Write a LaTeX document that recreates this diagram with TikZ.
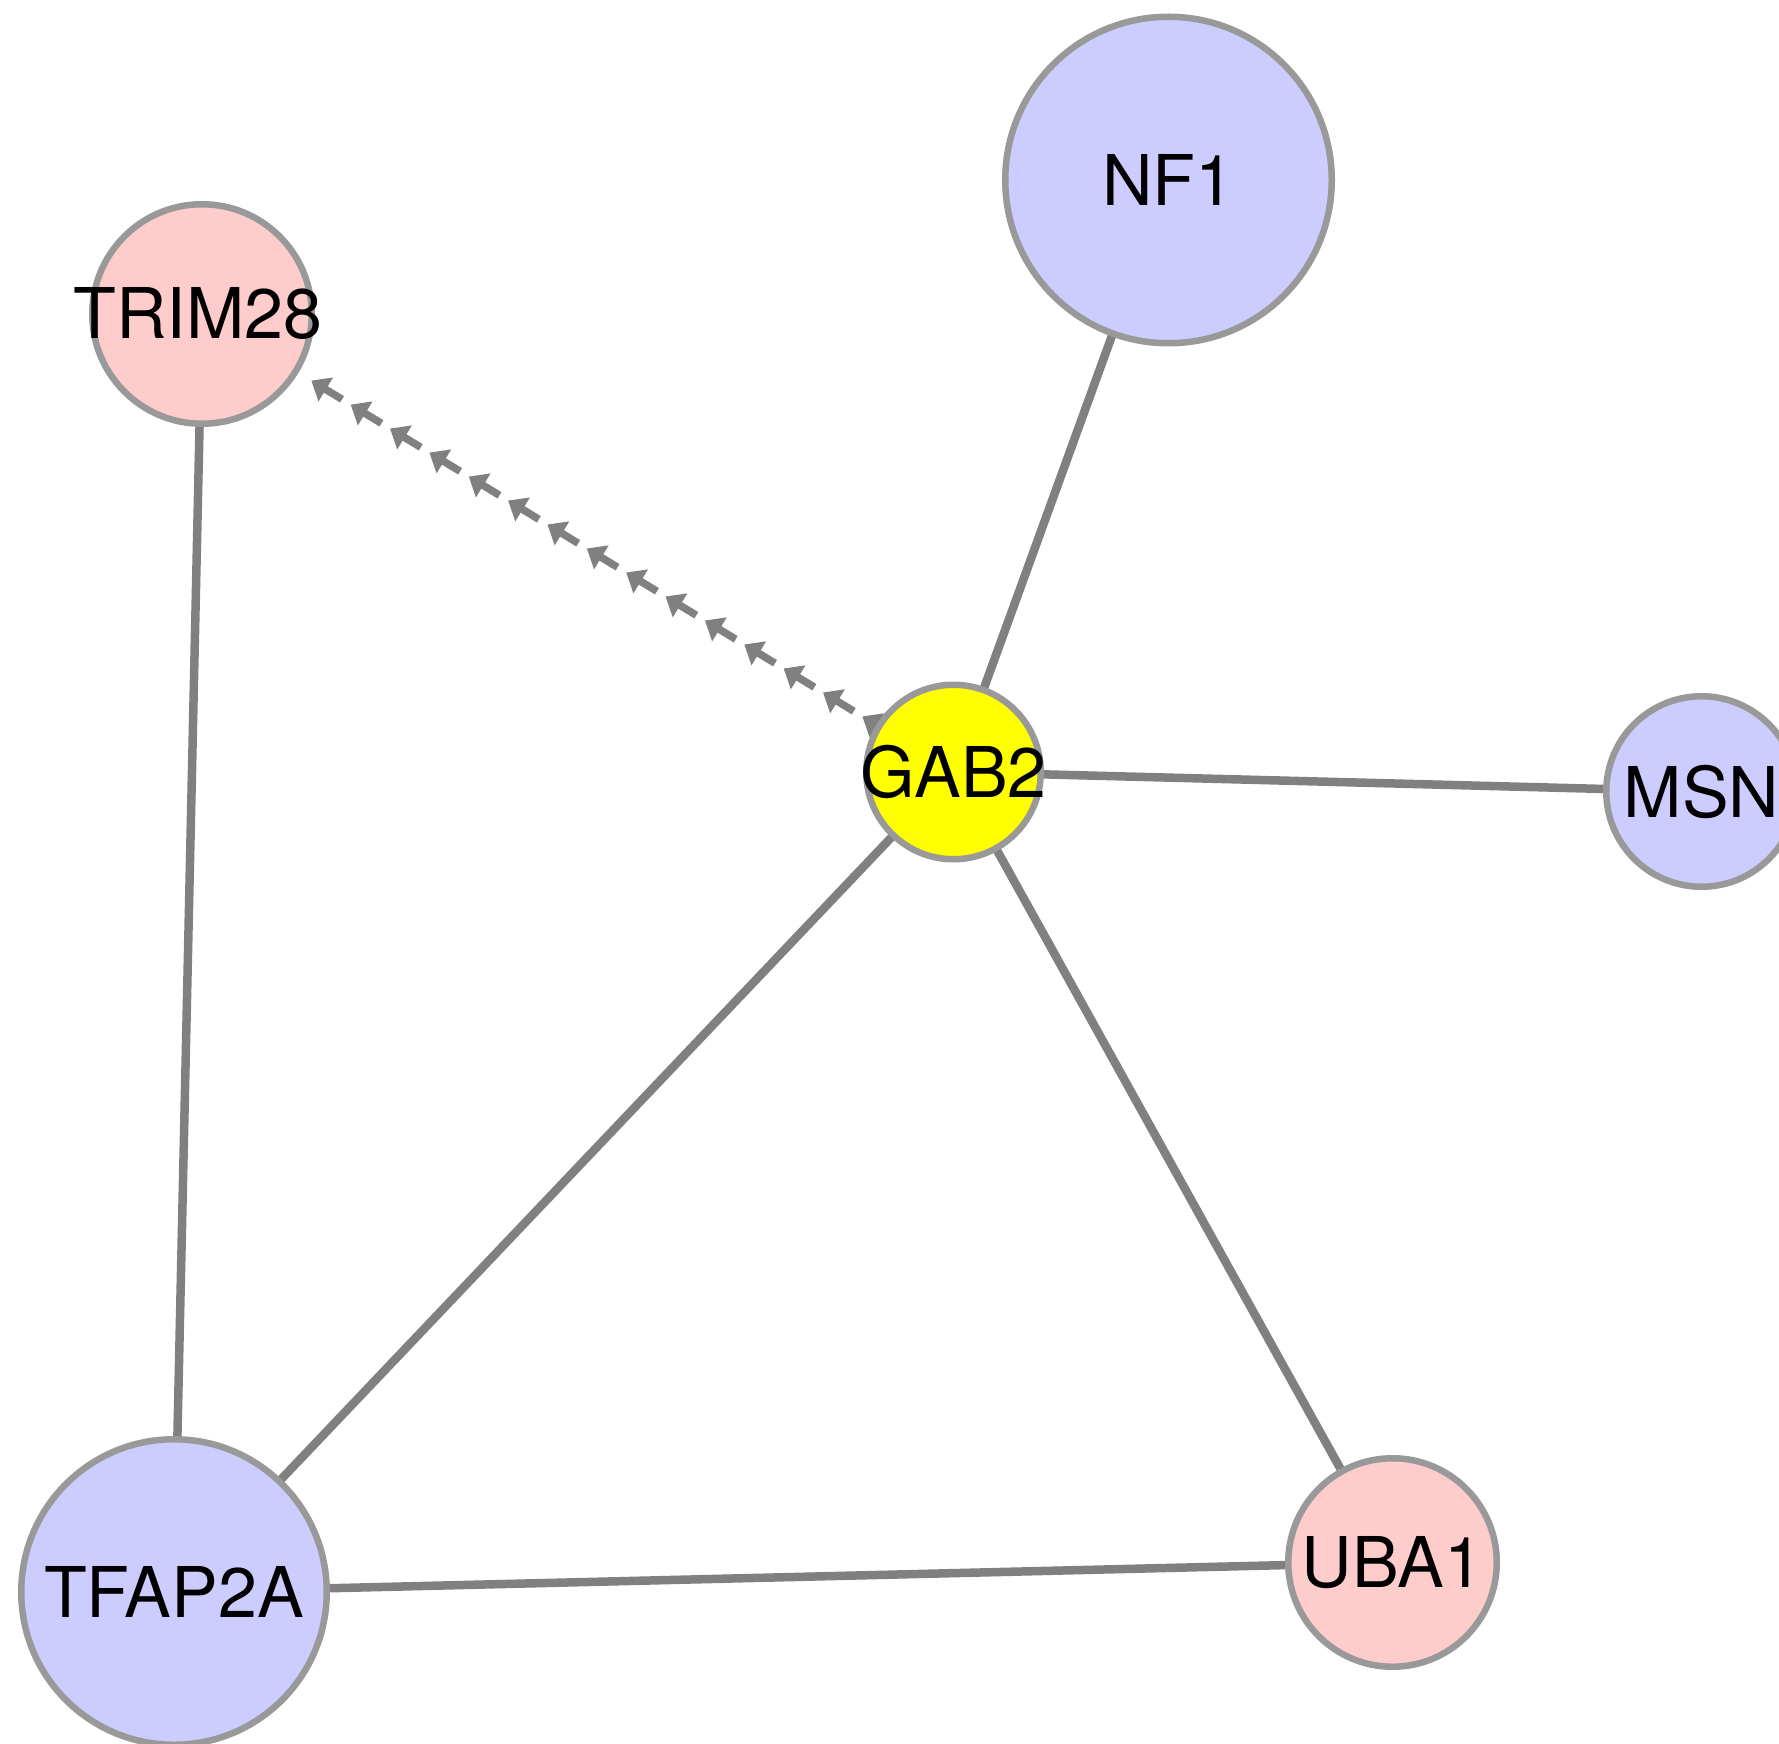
\documentclass[tikz,border=0pt]{standalone}
\usepackage{fontspec}
\setmainfont{TeX Gyre Heros}
\usetikzlibrary{arrows.meta,calc,backgrounds}
\definecolor{edgegray}{HTML}{808080}
\definecolor{bordergray}{HTML}{999999}
\definecolor{nodeblue}{HTML}{CCCCFF}
\definecolor{nodepink}{HTML}{FFCCCC}
\definecolor{nodeyellow}{HTML}{FFFF00}
\begin{document}
\begin{tikzpicture}[x=1pt,y=-1pt,
  gene/.style={circle,draw=bordergray,line width=6.5pt,inner sep=0pt,
    font=\fontsize{70}{80}\selectfont,text=black},
  edge/.style={draw=edgegray,line width=8.5pt},
  arrowunit/.style={edgegray,line width=7.5pt,-{Triangle[length=17pt,width=27pt]}}]
\useasboundingbox (0,0) rectangle (1779,1744);
\node[gene,fill=nodeblue,minimum size=326.5pt] (NF1) at (1168.5,180) {\makebox[0pt]{NF1}};
\node[gene,fill=nodepink,minimum size=219.5pt] (TRIM28) at (202,314) {\makebox[0pt]{\hspace*{-8pt}TRIM28}};
\node[gene,fill=nodeyellow,minimum size=174.5pt] (GAB2) at (953.5,772) {\makebox[0pt]{GAB2}};
\node[gene,fill=nodeblue,minimum size=190.5pt] (MSN) at (1701.5,791.5) {\makebox[0pt]{MSN}};
\node[gene,fill=nodeblue,minimum size=305.5pt] (TFAP2A) at (174,1592) {\makebox[0pt]{TFAP2A}};
\node[gene,fill=nodepink,minimum size=208.5pt] (UBA1) at (1392.5,1562.5) {\makebox[0pt]{UBA1}};
\begin{scope}[on background layer]
\fill[white] (0,0) rectangle (1779,1744);
\draw[edge] (GAB2.center) -- (NF1.center);
\draw[edge] (GAB2.center) -- (MSN.center);
\draw[edge] (GAB2.center) -- (TFAP2A.center);
\draw[edge] (GAB2.center) -- (UBA1.center);
\draw[edge] (TRIM28.center) -- (TFAP2A.center);
\draw[edge] (TFAP2A.center) -- (UBA1.center);
\foreach \k in {0,...,14}{
  \pgfmathsetmacro\dtip{128+46.1*\k}
  \pgfmathsetmacro\dtail{\dtip+36}
  \draw[arrowunit] ($(TRIM28.center)!\dtail pt!(GAB2.center)$) -- ($(TRIM28.center)!\dtip pt!(GAB2.center)$);
}
\end{scope}
\end{tikzpicture}
\end{document}
